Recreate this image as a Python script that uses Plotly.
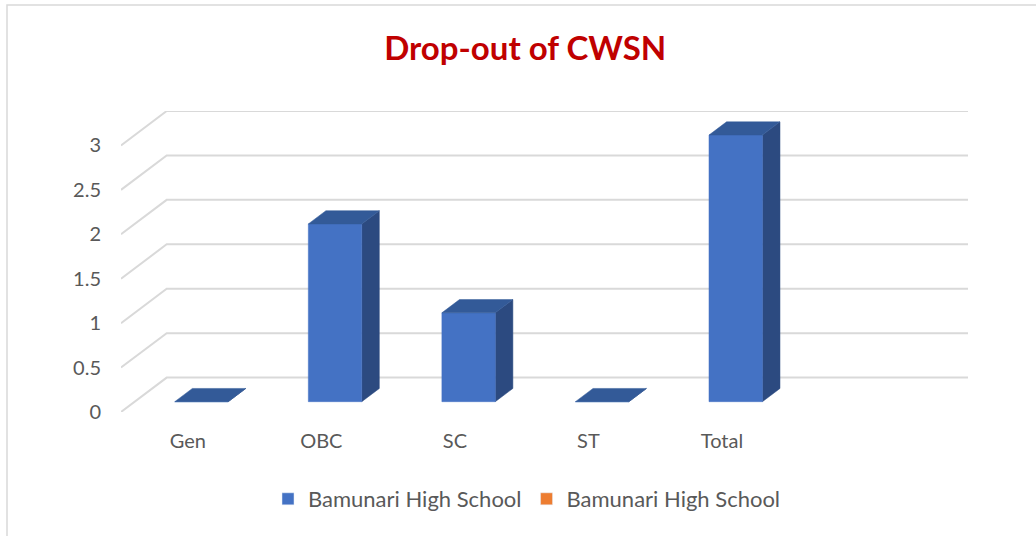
import plotly.graph_objects as go

# ---------------- data ----------------
categories = ["Gen", "OBC", "SC", "ST", "Total"]
school_a = [0, 2, 1, 0, 3]            # Bamunari High School (blue)
school_b = [None, None, None, None, None]  # Bamunari High School (orange, no visible bars)
series_names = ["Bamunari High School", "Bamunari High School"]
y_ticks = [0, 0.5, 1, 1.5, 2, 2.5, 3]
y_tick_text = ["0", "0.5", "1", "1.5", "2", "2.5", "3"]
n_slots = 6  # category slots on the floor (last one empty)

# ---------------- 3D oblique style ----------------
DX, DY = 0.342, 0.387      # back-wall offset (category units, value units)
T0, T1 = 0.30, 0.685       # bar depth fractions
W = 0.40                   # bar width (category units)
FRONT = "#4472C4"
TOP = "#335A98"
SIDE = "#2C4A80"
GRID = "#D9D9D9"
TXT = "#595959"
FONT = "Lato"

fig = go.Figure()

xmin, xmax = -0.5, n_slots - 0.5
ymax = max(y_ticks)

# gridlines: back wall + left diagonal
gx, gy = [], []
for v in y_ticks:
    gx += [xmin, xmin + DX, xmax + DX, None]
    gy += [v, v + DY, v + DY, None]
fig.add_trace(go.Scatter(x=gx, y=gy, mode="lines", line=dict(color=GRID, width=2),
                         hoverinfo="skip", showlegend=False))

# bars
for i, v in enumerate(school_a):
    if v is None:
        continue
    x0, x1 = i - W / 2, i + W / 2
    ox0, oy0 = T0 * DX, T0 * DY
    ox1, oy1 = T1 * DX, T1 * DY
    front = ([x0 + ox0, x1 + ox0, x1 + ox0, x0 + ox0, x0 + ox0],
             [oy0, oy0, v + oy0, v + oy0, oy0])
    side = ([x1 + ox0, x1 + ox1, x1 + ox1, x1 + ox0, x1 + ox0],
            [oy0, oy1, v + oy1, v + oy0, oy0])
    top = ([x0 + ox0, x1 + ox0, x1 + ox1, x0 + ox1, x0 + ox0],
           [v + oy0, v + oy0, v + oy1, v + oy1, v + oy0])
    for (px, py), col in ((side, SIDE), (front, FRONT), (top, TOP)):
        fig.add_trace(go.Scatter(x=px, y=py, mode="lines", fill="toself",
                                 fillcolor=col, line=dict(color=col, width=0.5),
                                 hoverinfo="skip", showlegend=False))

# legend entries
for name, vals, col in ((series_names[0], school_a, "#4472C4"),
                        (series_names[1], school_b, "#ED7D31")):
    fig.add_trace(go.Bar(x=[None] * len(vals), y=[None] * len(vals), name=name,
                         marker=dict(color=col), showlegend=True))

fig.update_layout(
    width=1036, height=536,
    margin=dict(l=121, r=68, t=111, b=124),
    paper_bgcolor="white", plot_bgcolor="white",
    title=dict(text="<b>Drop-out of CWSN</b>", x=0.507, xanchor="center",
               y=1 - 48 / 536, yanchor="middle", yref="container",
               font=dict(family=FONT, size=33, color="#C00000")),
    xaxis=dict(range=[xmin, xmax + DX], tickvals=list(range(len(categories))),
               ticktext=categories, showgrid=False, zeroline=False, showline=False,
               ticks="", ticklabelstandoff=15, automargin=False,
               tickfont=dict(family=FONT, size=20, color=TXT), fixedrange=True),
    yaxis=dict(range=[0, ymax + DY], tickvals=y_ticks, ticktext=y_tick_text,
               showgrid=False, zeroline=False, showline=False, ticks="",
               ticklabelstandoff=19, automargin=False,
               tickfont=dict(family=FONT, size=20, color=TXT), fixedrange=True),
    showlegend=True,
    legend=dict(orientation="h", xref="container", yref="container",
                x=527 / 1036, xanchor="center", y=1 - 499 / 536, yanchor="middle",
                font=dict(family=FONT, size=22, color=TXT), traceorder="normal"),
    shapes=[dict(type="rect", xref="paper", yref="paper",
                 x0=(7 - 121) / (1036 - 121 - 68), x1=(1040 - 121) / (1036 - 121 - 68),
                 y0=-(540 - 412) / 301, y1=1 + (111 - 5) / 301,
                 line=dict(color=GRID, width=1.5), layer="below")],
)

fig.write_html("out.html", config={"displayModeBar": False},
               post_script="document.body.style.margin='0';document.body.style.padding='0';")
